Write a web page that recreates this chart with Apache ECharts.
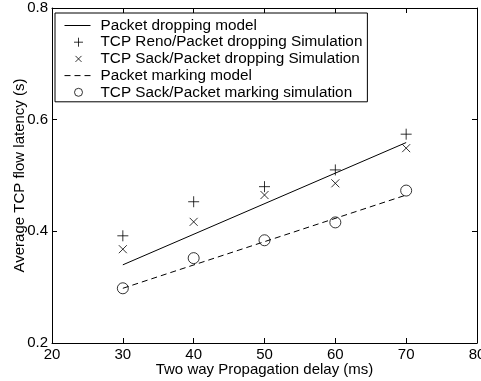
<!DOCTYPE html>
<html><head><meta charset="utf-8">
<script src="https://cdn.jsdelivr.net/npm/echarts@6/dist/echarts.min.js"></script>
<style>html,body{margin:0;padding:0;background:#fff}#c{width:481px;height:381px}</style>
</head><body><div id="c"></div>
<script>
var delays = [30, 40, 50, 60, 70];
var renoDrop = [0.392, 0.453, 0.480, 0.510, 0.574];
var sackDrop = [0.368, 0.417, 0.465, 0.486, 0.549];
var sackMark = [0.298, 0.352, 0.384, 0.416, 0.473];
var modelDelays = [30, 70];
var dropModel = [0.340, 0.559];
var markModel = [0.298, 0.465];
var xTicks = [20, 30, 40, 50, 60, 70, 80];
var yTicks = [0.2, 0.4, 0.6, 0.8];
var names = ['Packet dropping model', 'TCP Reno/Packet dropping Simulation', 'TCP Sack/Packet dropping Simulation', 'Packet marking model', 'TCP Sack/Packet marking simulation'];

function pairs(xs, ys) { return xs.map(function (x, i) { return [x, ys[i]]; }); }
var FONT = 'Liberation Sans, Arial, Helvetica, sans-serif';
var PLUS = 'path://M0,5L10,5M5,0L5,10';
var CROSS = 'path://M0,0L10,10M0,10L10,0';
var LLINE = 'path://M0,0M28,14M0,7L26,7';
var LDASH = 'path://M0,0M28,14M0,7L6,7M10,7L16,7M20,7L26,7';
var LPLUS = 'path://M0,0M28,14M9.5,7L18.5,7M14,2.5L14,11.5';
var LCROSS = 'path://M0,0M28,14M11,4L17,10M11,10L17,4';
var LCIRC = 'path://M0,0M28,14M18,7A4,4,0,1,1,10,7A4,4,0,1,1,18,7Z';

function xAx(pos, showLabel) {
  return {
    type: 'value', position: pos, min: xTicks[0], max: xTicks[xTicks.length - 1], interval: 10,
    axisLine: { show: true, onZero: false, lineStyle: { color: '#000', width: 1 } },
    axisTick: { show: true, inside: true, length: 5, lineStyle: { color: '#000' } },
    axisLabel: { show: showLabel, color: '#000', fontSize: 15, fontFamily: FONT, margin: 4 },
    splitLine: { show: false },
    name: showLabel ? 'Two way Propagation delay (ms)' : '',
    nameLocation: 'middle', nameGap: 19, nameMoveOverlap: false,
    nameTextStyle: { color: '#000', fontSize: 15, fontFamily: FONT }
  };
}
function yAx(pos, showLabel) {
  return {
    type: 'value', position: pos, min: yTicks[0], max: yTicks[yTicks.length - 1], interval: 0.2,
    axisLine: { show: true, onZero: false, lineStyle: { color: '#000', width: 1 } },
    axisTick: { show: true, inside: true, length: 5, lineStyle: { color: '#000' } },
    axisLabel: { show: showLabel, color: '#000', fontSize: 15, fontFamily: FONT, margin: 4,
      formatter: function (v) { return v.toFixed(1); } },
    splitLine: { show: false },
    name: showLabel ? 'Average TCP flow latency (s)' : '',
    nameLocation: 'middle', nameGap: 25, nameMoveOverlap: false,
    nameTextStyle: { color: '#000', fontSize: 15, fontFamily: FONT }
  };
}
var scatterStyle = { color: 'rgba(0,0,0,0)', borderColor: '#000', borderWidth: 1 };

var option = {
  animation: false,
  backgroundColor: '#fff',
  grid: { left: 52, right: 4, top: 8, bottom: 38, containLabel: false, outerBoundsMode: 'none' },
  xAxis: [xAx('bottom', true), xAx('top', false)],
  yAxis: [yAx('left', true), yAx('right', false)],
  legend: {
    orient: 'vertical', left: 55, top: 13,
    backgroundColor: '#fff', borderColor: '#000', borderWidth: 1, borderRadius: 0,
    padding: [5, 5, 2, 9], itemGap: 1.7, itemWidth: 28, itemHeight: 14,
    itemStyle: { color: 'rgba(0,0,0,0)', borderColor: '#000', borderWidth: 1 },
    textStyle: { color: '#000', fontSize: 15.3, lineHeight: 14, fontFamily: FONT, padding: [0, 0, 0, 3] },
    data: [
      { name: names[0], icon: LLINE },
      { name: names[1], icon: LPLUS },
      { name: names[2], icon: LCROSS },
      { name: names[3], icon: LDASH },
      { name: names[4], icon: LCIRC }
    ]
  },
  series: [
    { name: names[0], type: 'line', data: pairs(modelDelays, dropModel), symbol: 'none',
      lineStyle: { color: '#000', width: 1 }, itemStyle: { color: 'rgba(0,0,0,0)', borderColor: '#000', borderWidth: 1 } },
    { name: names[1], type: 'scatter', data: pairs(delays, renoDrop), symbol: PLUS, symbolSize: 11,
      itemStyle: scatterStyle },
    { name: names[2], type: 'scatter', data: pairs(delays, sackDrop), symbol: CROSS, symbolSize: 8,
      itemStyle: scatterStyle },
    { name: names[3], type: 'line', data: pairs(modelDelays, markModel), symbol: 'none',
      lineStyle: { color: '#000', width: 1, type: [6, 4] }, itemStyle: { color: 'rgba(0,0,0,0)', borderColor: '#000', borderWidth: 1 } },
    { name: names[4], type: 'scatter', data: pairs(delays, sackMark), symbol: 'circle', symbolSize: 11,
      itemStyle: scatterStyle }
  ]
};
echarts.init(document.getElementById('c'), null, { renderer: 'canvas' }).setOption(option);
</script></body></html>
